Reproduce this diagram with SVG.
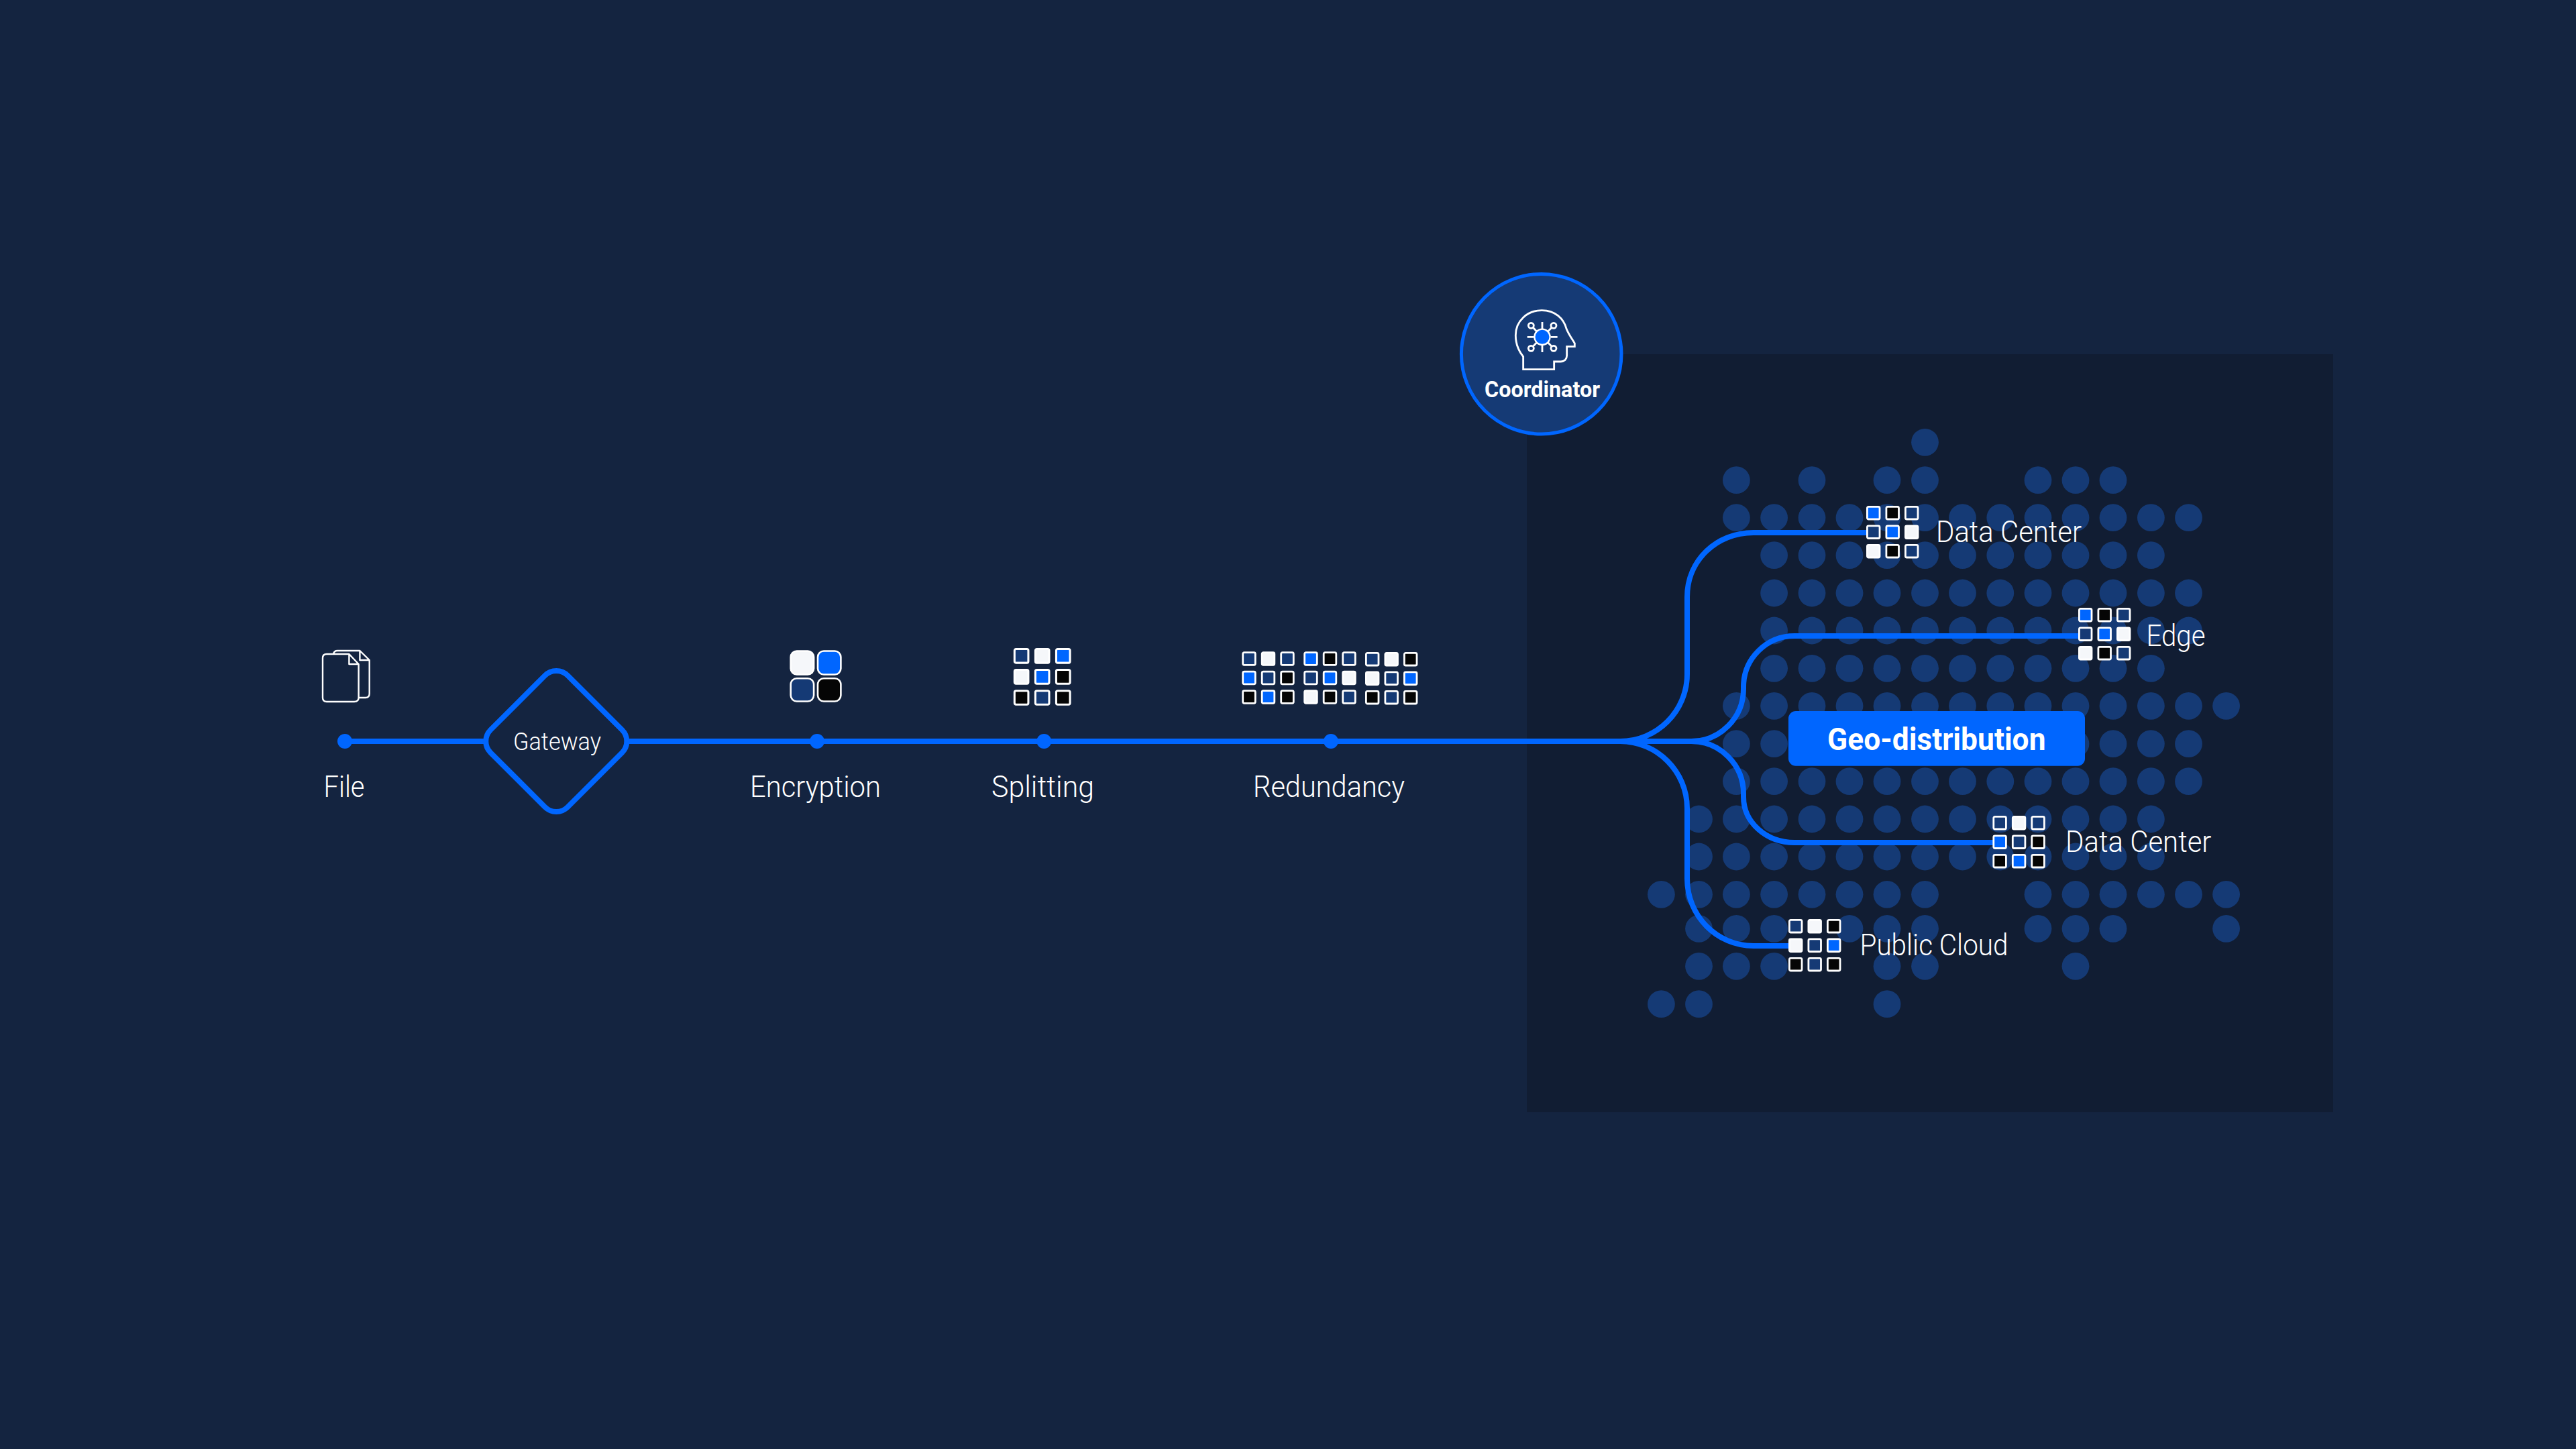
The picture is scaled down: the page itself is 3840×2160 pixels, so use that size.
<svg xmlns="http://www.w3.org/2000/svg" width="3840" height="2160" viewBox="0 0 3840 2160">
<style>
text{font-family:"Roboto","Noto Sans","Liberation Sans",sans-serif;fill:#fff;font-weight:300}
.lb{font-size:44px}
.sb{font-weight:700}
.w{fill:#f5f7fa;stroke:#fff}
.b{fill:#0066ff;stroke:#fff}
.n{fill:#153a75;stroke:#fff}
.k{fill:#050505;stroke:#fff}
.c rect{stroke-width:2.8}
.conn{fill:none;stroke:#0066ff;stroke-width:8}
.pt{fill:#0066ff}
.ol{fill:none;stroke:#fff;stroke-width:2.4;stroke-linejoin:round}
.hd{fill:none;stroke:#fff;stroke-width:8.5}
</style>
<defs>
<g id="pa" class="c">
<rect class="n" x="1.4" y="1.4" width="18.6" height="18.6" rx="2"/><rect class="w" x="29.9" y="1.4" width="18.6" height="18.6" rx="2"/><rect class="n" x="58.4" y="1.4" width="18.6" height="18.6" rx="2"/>
<rect class="b" x="1.4" y="29.9" width="18.6" height="18.6" rx="2"/><rect class="n" x="29.9" y="29.9" width="18.6" height="18.6" rx="2"/><rect class="k" x="58.4" y="29.9" width="18.6" height="18.6" rx="2"/>
<rect class="k" x="1.4" y="58.4" width="18.6" height="18.6" rx="2"/><rect class="b" x="29.9" y="58.4" width="18.6" height="18.6" rx="2"/><rect class="k" x="58.4" y="58.4" width="18.6" height="18.6" rx="2"/>
</g>
<g id="pb" class="c">
<rect class="b" x="1.4" y="1.4" width="18.6" height="18.6" rx="2"/><rect class="k" x="29.9" y="1.4" width="18.6" height="18.6" rx="2"/><rect class="n" x="58.4" y="1.4" width="18.6" height="18.6" rx="2"/>
<rect class="n" x="1.4" y="29.9" width="18.6" height="18.6" rx="2"/><rect class="b" x="29.9" y="29.9" width="18.6" height="18.6" rx="2"/><rect class="w" x="58.4" y="29.9" width="18.6" height="18.6" rx="2"/>
<rect class="w" x="1.4" y="58.4" width="18.6" height="18.6" rx="2"/><rect class="k" x="29.9" y="58.4" width="18.6" height="18.6" rx="2"/><rect class="n" x="58.4" y="58.4" width="18.6" height="18.6" rx="2"/>
</g>
<g id="pc" class="c">
<rect class="n" x="1.4" y="1.4" width="18.6" height="18.6" rx="2"/><rect class="w" x="29.9" y="1.4" width="18.6" height="18.6" rx="2"/><rect class="k" x="58.4" y="1.4" width="18.6" height="18.6" rx="2"/>
<rect class="w" x="1.4" y="29.9" width="18.6" height="18.6" rx="2"/><rect class="n" x="29.9" y="29.9" width="18.6" height="18.6" rx="2"/><rect class="b" x="58.4" y="29.9" width="18.6" height="18.6" rx="2"/>
<rect class="k" x="1.4" y="58.4" width="18.6" height="18.6" rx="2"/><rect class="n" x="29.9" y="58.4" width="18.6" height="18.6" rx="2"/><rect class="k" x="58.4" y="58.4" width="18.6" height="18.6" rx="2"/>
</g>
</defs>
<rect width="3840" height="2160" fill="#142440"/>
<rect id="panel" x="2276" y="528" width="1202" height="1130" fill="#111d33"/>
<g id="dots" fill="#153a75">
<circle cx="2869.5" cy="659.3" r="20.4"/>
<circle cx="2588.4" cy="715.7" r="20.4"/><circle cx="2701" cy="715.7" r="20.4"/><circle cx="2813" cy="715.7" r="20.4"/><circle cx="2869.5" cy="715.7" r="20.4"/><circle cx="3038" cy="715.7" r="20.4"/><circle cx="3094" cy="715.7" r="20.4"/><circle cx="3150" cy="715.7" r="20.4"/>
<circle cx="2588.4" cy="771.7" r="20.4"/><circle cx="2644.6" cy="771.7" r="20.4"/><circle cx="2701" cy="771.7" r="20.4"/><circle cx="2757" cy="771.7" r="20.4"/><circle cx="2813" cy="771.7" r="20.4"/><circle cx="2869.5" cy="771.7" r="20.4"/><circle cx="2925.5" cy="771.7" r="20.4"/><circle cx="2981.8" cy="771.7" r="20.4"/><circle cx="3038" cy="771.7" r="20.4"/><circle cx="3094" cy="771.7" r="20.4"/><circle cx="3150" cy="771.7" r="20.4"/><circle cx="3206.4" cy="771.7" r="20.4"/><circle cx="3262.5" cy="771.7" r="20.4"/>
<circle cx="2644.6" cy="827.7" r="20.4"/><circle cx="2701" cy="827.7" r="20.4"/><circle cx="2757" cy="827.7" r="20.4"/><circle cx="2813" cy="827.7" r="20.4"/><circle cx="2869.5" cy="827.7" r="20.4"/><circle cx="2925.5" cy="827.7" r="20.4"/><circle cx="2981.8" cy="827.7" r="20.4"/><circle cx="3038" cy="827.7" r="20.4"/><circle cx="3094" cy="827.7" r="20.4"/><circle cx="3150" cy="827.7" r="20.4"/><circle cx="3206.4" cy="827.7" r="20.4"/>
<circle cx="2644.6" cy="884" r="20.4"/><circle cx="2701" cy="884" r="20.4"/><circle cx="2757" cy="884" r="20.4"/><circle cx="2813" cy="884" r="20.4"/><circle cx="2869.5" cy="884" r="20.4"/><circle cx="2925.5" cy="884" r="20.4"/><circle cx="2981.8" cy="884" r="20.4"/><circle cx="3038" cy="884" r="20.4"/><circle cx="3094" cy="884" r="20.4"/><circle cx="3150" cy="884" r="20.4"/><circle cx="3206.4" cy="884" r="20.4"/><circle cx="3262.5" cy="884" r="20.4"/>
<circle cx="2644.6" cy="940" r="20.4"/><circle cx="2701" cy="940" r="20.4"/><circle cx="2757" cy="940" r="20.4"/><circle cx="2813" cy="940" r="20.4"/><circle cx="2869.5" cy="940" r="20.4"/><circle cx="2925.5" cy="940" r="20.4"/><circle cx="2981.8" cy="940" r="20.4"/><circle cx="3038" cy="940" r="20.4"/><circle cx="3094" cy="940" r="20.4"/><circle cx="3150" cy="940" r="20.4"/><circle cx="3206.4" cy="940" r="20.4"/><circle cx="3262.5" cy="940" r="20.4"/>
<circle cx="2644.6" cy="996.3" r="20.4"/><circle cx="2701" cy="996.3" r="20.4"/><circle cx="2757" cy="996.3" r="20.4"/><circle cx="2813" cy="996.3" r="20.4"/><circle cx="2869.5" cy="996.3" r="20.4"/><circle cx="2925.5" cy="996.3" r="20.4"/><circle cx="2981.8" cy="996.3" r="20.4"/><circle cx="3038" cy="996.3" r="20.4"/><circle cx="3094" cy="996.3" r="20.4"/><circle cx="3150" cy="996.3" r="20.4"/><circle cx="3206.4" cy="996.3" r="20.4"/>
<circle cx="2588.4" cy="1052.3" r="20.4"/><circle cx="2644.6" cy="1052.3" r="20.4"/><circle cx="2701" cy="1052.3" r="20.4"/><circle cx="2757" cy="1052.3" r="20.4"/><circle cx="2813" cy="1052.3" r="20.4"/><circle cx="2869.5" cy="1052.3" r="20.4"/><circle cx="2925.5" cy="1052.3" r="20.4"/><circle cx="2981.8" cy="1052.3" r="20.4"/><circle cx="3038" cy="1052.3" r="20.4"/><circle cx="3094" cy="1052.3" r="20.4"/><circle cx="3150" cy="1052.3" r="20.4"/><circle cx="3206.4" cy="1052.3" r="20.4"/><circle cx="3262.5" cy="1052.3" r="20.4"/><circle cx="3318.6" cy="1052.3" r="20.4"/>
<circle cx="2588.4" cy="1108.7" r="20.4"/><circle cx="2644.6" cy="1108.7" r="20.4"/><circle cx="3094" cy="1108.7" r="20.4"/><circle cx="3150" cy="1108.7" r="20.4"/><circle cx="3206.4" cy="1108.7" r="20.4"/><circle cx="3262.5" cy="1108.7" r="20.4"/>
<circle cx="2588.4" cy="1164.7" r="20.4"/><circle cx="2644.6" cy="1164.7" r="20.4"/><circle cx="2701" cy="1164.7" r="20.4"/><circle cx="2757" cy="1164.7" r="20.4"/><circle cx="2813" cy="1164.7" r="20.4"/><circle cx="2869.5" cy="1164.7" r="20.4"/><circle cx="2925.5" cy="1164.7" r="20.4"/><circle cx="2981.8" cy="1164.7" r="20.4"/><circle cx="3038" cy="1164.7" r="20.4"/><circle cx="3094" cy="1164.7" r="20.4"/><circle cx="3150" cy="1164.7" r="20.4"/><circle cx="3206.4" cy="1164.7" r="20.4"/><circle cx="3262.5" cy="1164.7" r="20.4"/>
<circle cx="2532.5" cy="1221" r="20.4"/><circle cx="2588.4" cy="1221" r="20.4"/><circle cx="2644.6" cy="1221" r="20.4"/><circle cx="2701" cy="1221" r="20.4"/><circle cx="2757" cy="1221" r="20.4"/><circle cx="2813" cy="1221" r="20.4"/><circle cx="2869.5" cy="1221" r="20.4"/><circle cx="2925.5" cy="1221" r="20.4"/><circle cx="2981.8" cy="1221" r="20.4"/><circle cx="3038" cy="1221" r="20.4"/><circle cx="3094" cy="1221" r="20.4"/><circle cx="3150" cy="1221" r="20.4"/><circle cx="3206.4" cy="1221" r="20.4"/>
<circle cx="2532.5" cy="1277" r="20.4"/><circle cx="2588.4" cy="1277" r="20.4"/><circle cx="2644.6" cy="1277" r="20.4"/><circle cx="2701" cy="1277" r="20.4"/><circle cx="2757" cy="1277" r="20.4"/><circle cx="2813" cy="1277" r="20.4"/><circle cx="2869.5" cy="1277" r="20.4"/><circle cx="2925.5" cy="1277" r="20.4"/><circle cx="2981.8" cy="1277" r="20.4"/><circle cx="3038" cy="1277" r="20.4"/><circle cx="3094" cy="1277" r="20.4"/><circle cx="3150" cy="1277" r="20.4"/><circle cx="3206.4" cy="1277" r="20.4"/>
<circle cx="2476.4" cy="1333.3" r="20.4"/><circle cx="2532.5" cy="1333.3" r="20.4"/><circle cx="2588.4" cy="1333.3" r="20.4"/><circle cx="2644.6" cy="1333.3" r="20.4"/><circle cx="2701" cy="1333.3" r="20.4"/><circle cx="2757" cy="1333.3" r="20.4"/><circle cx="2813" cy="1333.3" r="20.4"/><circle cx="2869.5" cy="1333.3" r="20.4"/><circle cx="3038" cy="1333.3" r="20.4"/><circle cx="3094" cy="1333.3" r="20.4"/><circle cx="3150" cy="1333.3" r="20.4"/><circle cx="3206.4" cy="1333.3" r="20.4"/><circle cx="3262.5" cy="1333.3" r="20.4"/><circle cx="3318.6" cy="1333.3" r="20.4"/>
<circle cx="2532.5" cy="1384.3" r="20.4"/><circle cx="2588.4" cy="1384.3" r="20.4"/><circle cx="2644.6" cy="1384.3" r="20.4"/><circle cx="2757" cy="1384.3" r="20.4"/><circle cx="2813" cy="1384.3" r="20.4"/><circle cx="2869.5" cy="1384.3" r="20.4"/><circle cx="3038" cy="1384.3" r="20.4"/><circle cx="3094" cy="1384.3" r="20.4"/><circle cx="3150" cy="1384.3" r="20.4"/><circle cx="3318.6" cy="1384.3" r="20.4"/>
<circle cx="2532.5" cy="1440.3" r="20.4"/><circle cx="2588.4" cy="1440.3" r="20.4"/><circle cx="2644.6" cy="1440.3" r="20.4"/><circle cx="2813" cy="1440.3" r="20.4"/><circle cx="2869.5" cy="1440.3" r="20.4"/><circle cx="3094" cy="1440.3" r="20.4"/>
<circle cx="2476.4" cy="1496.7" r="20.4"/><circle cx="2532.5" cy="1496.7" r="20.4"/><circle cx="2813" cy="1496.7" r="20.4"/>
</g>
<g id="connectors" class="conn">
<path d="M514 1105H2521"/>
<path d="M2415 1105C2470 1105 2515 1060 2515 1005V890C2515 835 2559 794 2614 794H2785"/>
<path d="M2415 1105C2470 1105 2515 1150 2515 1205V1310C2515 1365 2559 1410 2614 1410H2670"/>
<path d="M2521 1105C2564 1105 2599 1070 2599 1027V1024C2599 982 2633 948 2675 948H3100"/>
<path d="M2521 1105C2564 1105 2599 1140 2599 1183V1188C2599 1226 2633 1256 2675 1256H2974"/>
</g>
<g id="node-file">
<path class="ol" d="M497 975Q498 970 503 970H536.4L550.7 984V1034Q550.7 1040 545 1040H534.6M536.4 970V984H550.7"/>
<path class="ol" d="M487 975H520.4L534.6 990V1040Q534.6 1046 528 1046H487Q481 1046 481 1040V981Q481 975 487 975ZM520.4 975V990H534.6"/>
<circle class="pt" cx="514" cy="1105" r="11"/>
<text class="lb" x="482.5" y="1188" textLength="61" lengthAdjust="spacingAndGlyphs">File</text>
</g>
<g id="node-gateway">
<rect x="-81.3" y="-81.3" width="162.6" height="162.6" rx="24" transform="translate(829.3 1105) rotate(45)" fill="#142440" stroke="#0066ff" stroke-width="8"/>
<text x="765" y="1118" font-size="36" textLength="131" lengthAdjust="spacingAndGlyphs">Gateway</text>
</g>
<g id="node-encryption">
<rect class="w" x="1178.7" y="970.5" width="34.4" height="35" rx="9" stroke-width="2.6"/>
<rect class="b" x="1219" y="970.5" width="34.4" height="35" rx="9" stroke-width="2.6"/>
<rect class="n" x="1178.7" y="1011.2" width="34.4" height="34.3" rx="9" stroke-width="2.6"/>
<rect class="k" x="1219" y="1011.2" width="34.4" height="34.3" rx="9" stroke-width="2.6"/>
<circle class="pt" cx="1218" cy="1105" r="11"/>
<text class="lb" x="1118" y="1188" textLength="195" lengthAdjust="spacingAndGlyphs">Encryption</text>
</g>
<g id="node-splitting">
<g transform="translate(1510.8 966) scale(1.09)"><g class="c">
<rect class="n" x="1.4" y="1.4" width="18.9" height="18.9" rx="2"/><rect class="w" x="29.9" y="1.4" width="18.9" height="18.9" rx="2"/><rect class="b" x="58.4" y="1.4" width="18.9" height="18.9" rx="2"/>
<rect class="w" x="1.4" y="29.9" width="18.9" height="18.9" rx="2"/><rect class="b" x="29.9" y="29.9" width="18.9" height="18.9" rx="2"/><rect class="k" x="58.4" y="29.9" width="18.9" height="18.9" rx="2"/>
<rect class="k" x="1.4" y="58.4" width="18.9" height="18.9" rx="2"/><rect class="n" x="29.9" y="58.4" width="18.9" height="18.9" rx="2"/><rect class="k" x="58.4" y="58.4" width="18.9" height="18.9" rx="2"/>
</g></g>
<circle class="pt" cx="1556.3" cy="1105" r="11"/>
<text class="lb" x="1478" y="1188" textLength="153" lengthAdjust="spacingAndGlyphs">Splitting</text>
</g>
<g id="node-redundancy">
<use href="#pa" transform="translate(1851.3 971.3)"/>
<use href="#pb" transform="translate(1943.3 971.3)"/>
<use href="#pc" transform="translate(2035 972)"/>
<circle class="pt" cx="1984" cy="1105" r="11"/>
<text class="lb" x="1868" y="1188" textLength="226" lengthAdjust="spacingAndGlyphs">Redundancy</text>
</g>
<g id="node-coordinator">
<circle cx="2297.7" cy="527.7" r="119.3" fill="#153a75" stroke="#0066ff" stroke-width="5"/>
<g transform="translate(2150 390) scale(.3333)">
<path class="hd" d="M362 482V425C338 395 328 365 328 330C328 265 380 218 445 218C505 218 543 255 555 300C565 325 580 345 592 365V380H557V420C557 436 546 447 530 447H500V482Z"/>
<path class="hd" d="M447 270V300M447 375V405M380 337H410M485 337H515M406 295L422 312M489 295L473 312M406 379L422 362M489 379L473 362"/>
<circle class="hd" cx="397" cy="286" r="12"/><circle class="hd" cx="498" cy="286" r="12"/><circle class="hd" cx="397" cy="388" r="12"/><circle class="hd" cx="498" cy="388" r="12"/>
<circle cx="447" cy="337" r="35" fill="#0066ff" stroke="#fff" stroke-width="7"/>
</g>
<text class="sb" x="2213" y="591.5" font-size="34" textLength="172" lengthAdjust="spacingAndGlyphs">Coordinator</text>
</g>
<g id="node-geo">
<rect x="2666" y="1060" width="442" height="81.7" rx="11" fill="#0066ff"/>
<text class="sb" x="2724" y="1117.5" font-size="46" textLength="325.5" lengthAdjust="spacingAndGlyphs">Geo-distribution</text>
</g>
<g id="node-dc1">
<use href="#pb" transform="translate(2782 754)"/>
<text class="lb" x="2886" y="808" textLength="217" lengthAdjust="spacingAndGlyphs">Data Center</text>
</g>
<g id="node-edge">
<use href="#pb" transform="translate(3098 906)"/>
<text class="lb" x="3199.5" y="963" textLength="88" lengthAdjust="spacingAndGlyphs">Edge</text>
</g>
<g id="node-dc2">
<use href="#pa" transform="translate(2970.4 1216)"/>
<text class="lb" x="3079" y="1270" textLength="217.5" lengthAdjust="spacingAndGlyphs">Data Center</text>
</g>
<g id="node-cloud">
<use href="#pc" transform="translate(2666 1370)"/>
<text class="lb" x="2772.5" y="1424" textLength="221" lengthAdjust="spacingAndGlyphs">Public Cloud</text>
</g>
</svg>
